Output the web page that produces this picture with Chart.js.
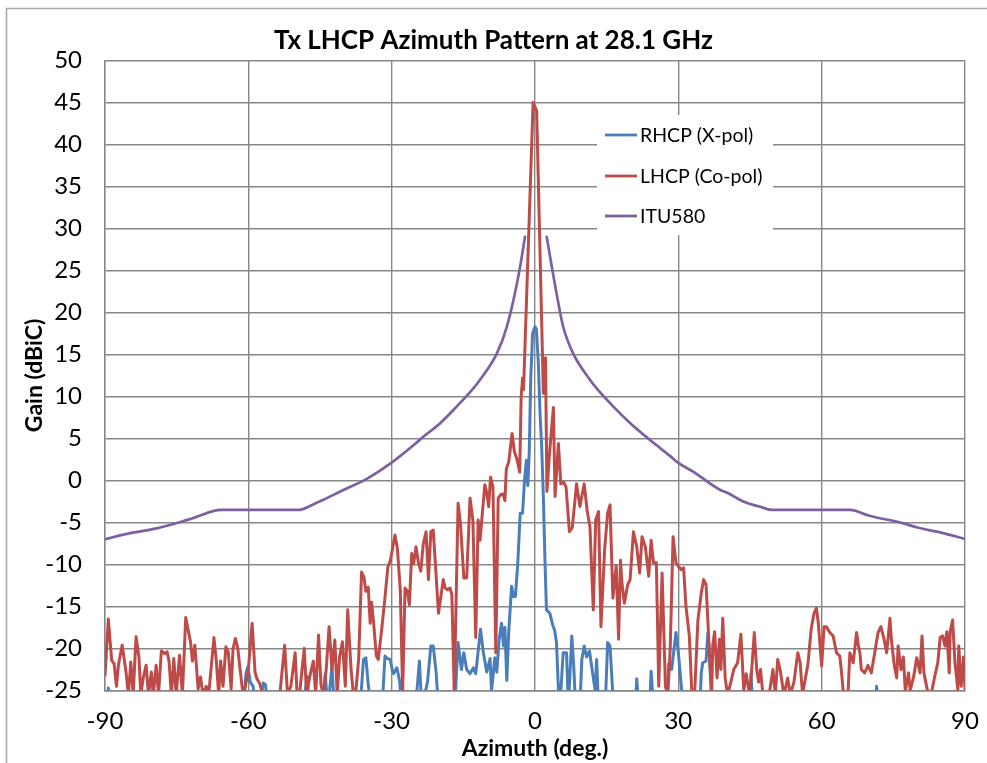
<!DOCTYPE html>
<html>
<head>
<meta charset="utf-8">
<title>Tx LHCP Azimuth Pattern at 28.1 GHz</title>
<script src="https://cdn.jsdelivr.net/npm/chart.js@4.4.1/dist/chart.umd.min.js"></script>
<style>
  html, body { margin: 0; padding: 0; background: #fff; overflow: hidden; }
  #wrap { width: 987px; height: 763px; position: relative; }
  #wrap canvas { display: block; }
</style>
</head>
<body>
<div id="wrap"><canvas id="patternChart"></canvas></div>
<script>
// tick labels
const xTickValues = [-90, -60, -30, 0, 30, 60, 90];
const yTickValues = [-25, -20, -15, -10, -5, 0, 5, 10, 15, 20, 25, 30, 35, 40, 45, 50];

// RHCP (X-pol) - azimuth (deg) and gain (dBiC); below -25 is off-scale
const rhcpAz = [-90, -89.5, -89.3, -89.0, -61.0, -60.5, -60.1, -59.6, -59.0, -58.5, -57.5, -56.9, -56.4, -56.0,
  -48.5, -47.7, -47.2, -44.5, -43.9, -43.4, -42.8, -42.5, -42.0, -36.6, -35.9, -35.4, -34.9, -34.3,
  -32.0, -31.4, -30.9, -30.3, -29.9, -29.6, -28.9, -28.3, -28.0, -25.0, -24.2, -23.7, -22.5, -21.8, -21.3, -20.7, -20.2,
  -16.8, -16.1, -15.4, -14.9, -14.3, -13.6, -12.9, -12.4, -11.7, -11.4, -10.8, -10.1, -9.4, -9.1, -8.4, -8.0,
  -7.5, -7.0, -6.6, -6.3, -5.9, -5.5, -4.9, -4.5, -4.1, -3.6, -3.1, -2.6, -2.2, -1.8, -1.5, -1.2, -0.9, -0.5,
  0.0, 0.3, 0.7, 1.05, 1.4, 1.75, 2.1, 2.4, 3.1, 3.7, 4.1, 4.5, 4.9, 5.2, 5.9, 6.6, 7.0, 7.7, 8.1, 8.5,
  9.4, 9.8, 10.3, 10.8, 11.4, 11.9, 12.6, 12.9, 13.3, 14.7, 15.2, 15.7, 16.3, 16.8, 21.0, 21.3, 21.7,
  24.0, 24.3, 24.8, 27.5, 28.0, 28.6, 29.5, 30.0, 30.6, 31.0, 34.5, 34.8, 35.1, 35.8, 36.2, 36.6, 37.0,
  45.0, 45.2, 45.6, 71.2, 71.5, 71.8, 90];
const rhcpGain = [-27, -27, -24.7, -27, -27, -23, -22.2, -24, -24.5, -27, -27, -24.1, -24.3, -27,
  -27, -23.3, -27, -27, -23, -27, -24, -22.1, -27, -27, -21.3, -21.1, -24.3, -27,
  -27, -20.9, -21.2, -21.3, -22.5, -23.0, -22.3, -24, -27, -27, -21.5, -27, -24, -19.7, -19.7, -22.8, -27,
  -27, -19.3, -22.5, -20.5, -22.5, -23, -22.3, -23, -19.3, -17.7, -20.5, -22.8, -21.2, -25, -21.1, -22.8,
  -18.9, -17, -19.7, -17.5, -23.8, -18, -12.6, -13.8, -13.8, -9.8, -3.9, -3.9, 0, 2.4, -0.6, 3.5, 12, 17.5,
  18.3, 18, 14, 8, 4, -2, -9.8, -15.4, -15.8, -17.2, -17.8, -19.3, -24.9, -27, -20.5, -20.5, -27, -18.5, -22, -27,
  -27, -21.3, -19.7, -21, -20.3, -22.3, -25, -21.3, -27, -27, -19.3, -19.7, -25.5, -27, -27, -23.6, -27,
  -27, -22.7, -27, -27, -21.8, -22.5, -18.1, -20.5, -24.3, -27, -27, -22.9, -21.7, -21.5, -18.1, -21.7, -27,
  -27, -23, -27, -27, -24.5, -27, -27];

// LHCP (Co-pol)
const lhcpAz = [-90, -89.3, -88.6, -88.1, -87.6, -87.2, -86.4, -85.6, -85.1, -84.6, -84.1, -83.5, -82.9, -82.5,
  -82.0, -81.4, -80.9, -80.3, -79.9, -79.3, -78.8, -78.2, -77.5, -77.0, -76.6, -76.1, -75.6, -75.1, -74.4, -73.8,
  -73.1, -72.6, -72.1, -71.7, -71.2, -70.5, -70.0, -69.5, -68.8, -68.3, -67.2, -66.7, -66.2, -65.8, -65.3, -64.7,
  -64.2, -63.6, -63.2, -62.7, -62.2, -61.7, -61.1, -60.6, -60.0, -59.2, -58.6, -58.2, -57.6, -57.0, -56.0, -53.5,
  -52.4, -51.8, -51.1, -50.2, -49.8, -49.2, -48.3, -47.8, -47.2, -46.4, -45.9, -45.3, -44.8, -44.3, -43.7, -43.1,
  -42.5, -41.9, -41.4, -40.9, -40.3, -39.7, -39.2, -38.5, -38.0, -37.5, -36.9, -36.3, -35.8, -35.4, -34.9, -34.5,
  -34.2, -33.8, -33.2, -32.8, -32.1, -31.5, -30.8, -30.3, -29.3, -28.8, -28.2, -27.7, -27.2, -26.7, -26.3, -25.8,
  -25.4, -24.9, -24.4, -23.9, -23.4, -22.8, -22.3, -21.8, -21.3, -20.9, -20.2, -19.2, -18.8, -18.3, -17.8, -17.4,
  -16.9, -16.1, -15.6, -14.9, -14.3, -13.6, -13.0, -12.4, -11.9, -11.5, -10.5, -10.1, -9.7, -9.3, -8.8, -8.2,
  -7.7, -7.2, -6.7, -6.3, -6.0, -5.5, -4.8, -4.3, -3.8, -3.2, -2.9, -2.6, -2.4, -0.4, -0.1, 0.35,
  1.75, 2.2, 2.5, 3.0, 3.85, 4.2, 4.9, 5.4, 6.0, 6.5, 7.2, 7.8, 8.7, 9.4, 10.3, 10.9, 11.5, 12.2, 12.7, 13.3,
  13.8, 14.6, 15.2, 15.7, 16.3, 17.0, 17.5, 17.9, 18.2, 18.7, 19.4, 19.9, 20.6, 21.3, 21.9, 22.4, 23.1, 23.8,
  24.3, 24.8, 25.4, 25.9, 26.6, 27.3, 27.8, 28.3, 28.9, 29.5, 30.0, 30.6, 31.1, 31.6, 32.3, 32.8, 33.4, 34.1,
  34.8, 35.3, 35.8, 36.3, 36.7, 37.0, 37.2, 37.6, 38.1, 38.6, 38.9, 39.3, 39.8, 40.3, 41.0, 41.6, 42.4, 43.1,
  43.7, 44.2, 44.9, 45.3, 45.9, 46.4, 46.8, 47.2, 47.7, 49.0, 49.8, 50.3, 50.8, 51.3, 52.1, 52.9, 53.4, 54.2,
  55.0, 55.5, 56.0, 56.8, 57.1, 57.8, 58.4, 58.9, 59.3, 60.0, 60.5, 61.0, 61.7, 62.4, 63.1, 63.8, 64.1, 64.5,
  65.5, 65.9, 66.6, 67.3, 67.7, 68.0, 68.3, 69.0, 69.7, 70.4, 71.1, 71.8, 72.4, 73.1, 73.6, 74.3, 74.6, 75.2,
  75.7, 76.0, 76.6, 77.1, 77.5, 78.2, 78.5, 79.2, 79.9, 80.6, 81.0, 81.4, 82.1, 82.9, 83.6, 84.3, 84.8, 85.3,
  85.8, 86.2, 86.7, 86.9, 87.4, 87.9, 88.5, 88.7, 89.2, 89.7, 90.0];
const lhcpGain = [-23.2, -16.5, -21.4, -21.8, -24.5, -22, -19.6, -22.8, -25.5, -21.6, -25.5, -18.6, -21, -25.5,
  -23.5, -22, -25.5, -22.8, -25.5, -22, -25.5, -20.3, -20.6, -20.4, -21.5, -25.5, -21.2, -25.5, -20.8, -25.5,
  -16.3, -17.8, -19.2, -21.5, -19.6, -24.8, -23.4, -25.5, -24.5, -25.5, -18.7, -21.5, -25.5, -21.5, -24.5, -19.8,
  -20.4, -24.8, -20, -18.8, -20, -22.6, -25.5, -24.5, -22.5, -17, -22.8, -23.6, -24.2, -25.5, -26, -26,
  -19.6, -25.5, -24.5, -20.5, -25.5, -25, -20, -25.5, -23.5, -21.5, -25.5, -18.4, -24.3, -25.5, -22.5, -17.4,
  -22.5, -19, -25.5, -21, -19.2, -24.5, -15.4, -22.5, -25.5, -25.1, -21.2, -10.9, -11.5, -13.2, -12.7, -17,
  -14.5, -16.8, -20.9, -21.3, -17.8, -14.5, -10.3, -9.6, -6.5, -8.1, -13, -25.2, -12.8, -13.2, -14.8, -8.7,
  -9.9, -7.9, -9.8, -10.8, -7.6, -6.1, -11.8, -6.1, -5.9, -9.5, -15.8, -11.8, -12.8, -13, -12.8, -13.6,
  -25.3, -2.7, -5.1, -11.6, -11.6, -2.1, -4.7, -18.7, -4.7, -7.1, -0.5, -1.5, -3.1, 0.4, -0.8, -20.5,
  -2.1, -1.7, -1.6, -2.4, 1.4, 2.2, 5.6, 3.4, 2.6, 1.0, 9.9, 12.2, 10.8, 45.0, 44.6, 44.0,
  10.4, 14.6, -1.3, 3, 8.7, -1.9, 4.4, -0.4, -0.2, -0.8, -6.1, -5.6, -0.4, -3.1, -0.4, -3.5, -5.5, -15.4, -4.7, -3.7,
  -17.4, -8, -3.9, -2.9, -14, -10.2, -18.9, -9.5, -12.2, -14.6, -12.4, -11.8, -6.1, -7.9, -11, -6.7, -7.9, -11.4,
  -7.1, -9.8, -9.8, -24.5, -11, -24.5, -25.5, -20, -6.7, -9.8, -10.2, -10.6, -10.4, -15, -18.5, -25, -25.5, -16.6,
  -13.4, -11.8, -12.4, -18.1, -22.9, -25, -19.7, -18, -23.5, -18.9, -22.5, -16.4, -23.5, -25.5, -24, -22.5, -21.7, -18.3,
  -25, -23, -25.5, -23, -18.1, -22.5, -24, -22.5, -25.5, -25.5, -22.5, -25.5, -21.3, -22.5, -25.5, -23.5, -25.5, -24,
  -20.5, -21.7, -25.5, -22.9, -22, -17.7, -15.8, -15.2, -17, -22.1, -17.4, -17.4, -18.1, -18.5, -20.5, -20.9, -22.5, -25,
  -25.5, -20.5, -21.7, -18.1, -19.7, -20.5, -22.5, -22.9, -22, -22.9, -20.5, -18.1, -17.4, -19, -20.5, -16.4, -19, -22,
  -23.5, -19.7, -22.5, -21, -25, -22.9, -25, -23.5, -21.1, -22.9, -18.5, -22.9, -24.9, -25.5, -23.5, -21.7, -18.7, -18.5,
  -19.7, -18, -22.9, -18, -16.6, -21.7, -24.9, -19.7, -24.5, -21, -24.9];

// ITU580 mask - two branches, gap around boresight
const ituAz = [-90, -85, -79.2, -72.2, -65.6, -49.2, -47, -44.3, -40, -35.2, -30.3, -25, -23.4, -19.9, -16.4, -13,
  -11.5, -8, -5.9, -4.2, -3.1, -2.1, 0, 2.45, 3.5, 4.5, 5.9, 8, 11.5, 13, 16.4, 20, 25, 28.3, 30, 33.1, 35,
  38.7, 40, 44, 47, 49.5, 65.9, 70, 77.1, 80, 85, 90];
const ituGain = [-7.0, -6.3, -5.7, -4.6, -3.5, -3.5, -3.0, -2.3, -1.1, 0.2, 2.0, 4.4, 5.2, 6.8, 8.8, 10.9,
  12, 15.1, 18.3, 22.3, 25.5, 29.0, null, 29.0, 25.5, 22.3, 18.3, 15.1, 12, 10.9, 8.8, 6.8, 4.4, 2.9, 2.1, 1.05, 0.3,
  -1.1, -1.4, -2.6, -3.1, -3.5, -3.5, -4.2, -5.1, -5.6, -6.2, -6.95];

const seriesNames = ['RHCP (X-pol)', 'LHCP (Co-pol)', 'ITU580'];
const seriesColors = ['#4A7EBB', '#BE4B48', '#7D60A0'];

function toPoints(az, gain) {
    return az.map((a, i) => ({ x: a, y: gain[i] }));
}

const gridColor = '#878787';
const fontFamily = 'Lato, "Open Sans", sans-serif';

// white page + outer frame (only left and top edges show in the picture)
const framePlugin = {
    id: 'frame',
    beforeDraw(chart) {
        const ctx = chart.ctx;
        ctx.save();
        ctx.fillStyle = '#ffffff';
        ctx.fillRect(0, 0, chart.width, chart.height);
        ctx.strokeStyle = '#a6a6a6';
        ctx.lineWidth = 1.5;
        ctx.beginPath();
        ctx.moveTo(6.5, chart.height);
        ctx.lineTo(6.5, 8.5);
        ctx.lineTo(chart.width, 8.5);
        ctx.stroke();
        ctx.restore();
    }
};

// legend box sitting inside the plot area
const insideLegend = {
    id: 'insideLegend',
    afterDatasetsDraw(chart) {
        const ctx = chart.ctx;
        ctx.save();
        ctx.fillStyle = '#ffffff';
        ctx.fillRect(597, 115, 176, 120);
        ctx.font = '19.5px ' + fontFamily;
        ctx.textBaseline = 'middle';
        ctx.textAlign = 'left';
        const rows = [135, 176, 216];
        seriesNames.forEach((name, i) => {
            ctx.strokeStyle = seriesColors[i];
            ctx.lineWidth = 2.8;
            ctx.beginPath();
            ctx.moveTo(605, rows[i]);
            ctx.lineTo(637, rows[i]);
            ctx.stroke();
            ctx.fillStyle = '#000000';
            ctx.fillText(name, 640, rows[i] + 1);
        });
        ctx.restore();
    }
};

const ctx = document.getElementById('patternChart').getContext('2d');
new Chart(ctx, {
    type: 'line',
    data: {
        datasets: [
            {
                label: seriesNames[0],
                data: toPoints(rhcpAz, rhcpGain),
                borderColor: seriesColors[0],
                borderWidth: 3,
                order: 3
            },
            {
                label: seriesNames[1],
                data: toPoints(lhcpAz, lhcpGain),
                borderColor: seriesColors[1],
                borderWidth: 3,
                order: 2
            },
            {
                label: seriesNames[2],
                data: toPoints(ituAz, ituGain),
                borderColor: seriesColors[2],
                borderWidth: 2.7,
                cubicInterpolationMode: 'monotone',
                spanGaps: false,
                order: 1
            }
        ]
    },
    options: {
        responsive: true,
        maintainAspectRatio: false,
        animation: false,
        devicePixelRatio: 1,
        layout: { padding: 0 },
        elements: {
            point: { radius: 0 },
            line: { tension: 0, borderJoinStyle: 'round', borderCapStyle: 'round' }
        },
        datasets: { line: { clip: { left: 0, top: 5, right: 0, bottom: 0 } } },
        plugins: {
            legend: { display: false },
            tooltip: { enabled: false },
            title: {
                display: true,
                text: 'Tx LHCP Azimuth Pattern at 28.1 GHz',
                color: '#000000',
                font: { family: fontFamily, size: 26, weight: 'bold', lineHeight: 1.2 },
                padding: { top: 25, bottom: 4.3 }
            }
        },
        scales: {
            x: {
                type: 'linear',
                min: -90,
                max: 90,
                afterBuildTicks: scale => { scale.ticks = xTickValues.map(v => ({ value: v })); },
                afterFit: scale => {
                    scale.height = 72.5;
                    scale.paddingLeft = 0;
                    scale.paddingRight = 22;
                },
                grid: { color: gridColor, lineWidth: 1.4, drawTicks: false },
                border: { color: gridColor, width: 1.4 },
                ticks: {
                    color: '#000000',
                    padding: 16,
                    maxRotation: 0,
                    font: { family: fontFamily, size: 24 }
                },
                title: {
                    display: true,
                    text: 'Azimuth (deg.)',
                    color: '#000000',
                    font: { family: fontFamily, size: 23, weight: 'bold', lineHeight: 1.2 },
                    padding: { top: 0, bottom: 1 }
                }
            },
            y: {
                type: 'linear',
                min: -25,
                max: 50,
                afterBuildTicks: scale => { scale.ticks = yTickValues.map(v => ({ value: v })); },
                afterFit: scale => {
                    scale.width = 105;
                    scale.paddingTop = 0;
                    scale.paddingBottom = 0;
                },
                grid: { color: gridColor, lineWidth: 1.4, drawTicks: false },
                border: { color: gridColor, width: 1.4 },
                ticks: {
                    color: '#000000',
                    padding: 23,
                    font: { family: fontFamily, size: 24 }
                },
                title: {
                    display: true,
                    text: 'Gain (dBiC)',
                    color: '#000000',
                    font: { family: fontFamily, size: 23, weight: 'bold', lineHeight: 1.2 },
                    padding: { top: 21, bottom: 0 }
                }
            }
        }
    },
    plugins: [framePlugin, insideLegend]
});
</script>
</body>
</html>
